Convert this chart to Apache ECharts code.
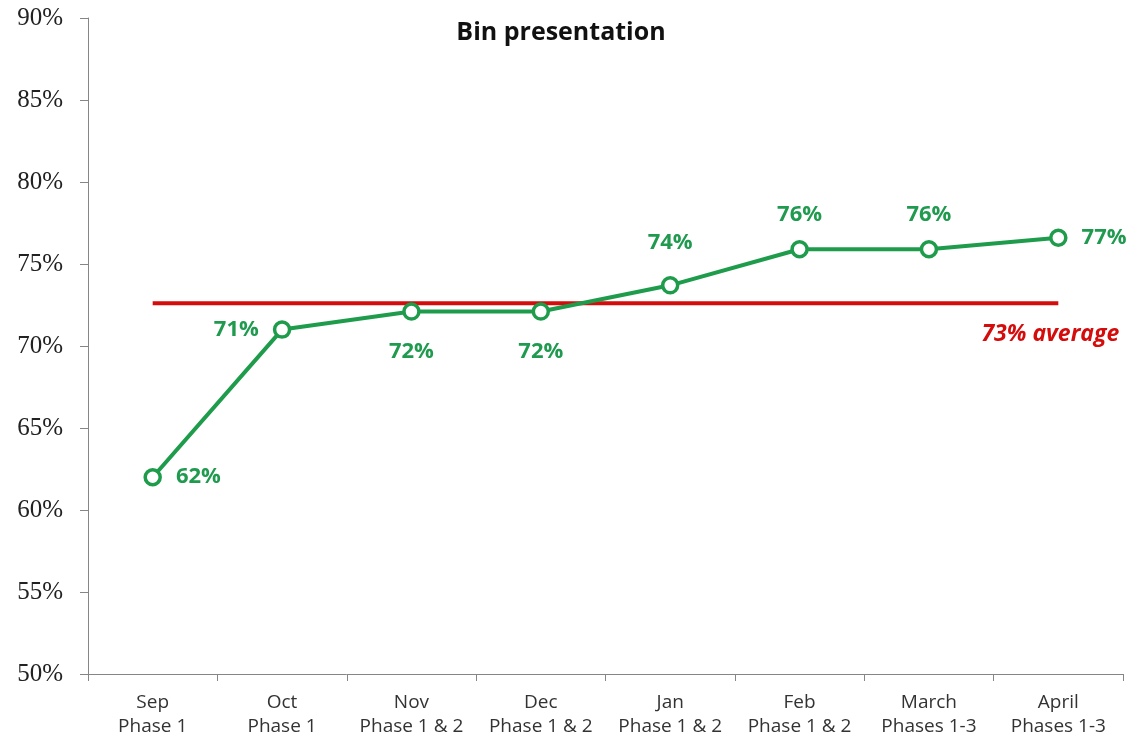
<!DOCTYPE html>
<html>
<head>
<meta charset="utf-8">
<script src="https://cdn.jsdelivr.net/npm/echarts@6/dist/echarts.min.js"></script>
<style>
  html, body { margin: 0; padding: 0; background: #fff; }
  #chart { width: 1132px; height: 746px; }
</style>
</head>
<body>
<div id="chart"></div>
<script>
// categories and values
var months = ['Sep\nPhase 1', 'Oct\nPhase 1', 'Nov\nPhase 1 & 2', 'Dec\nPhase 1 & 2',
              'Jan\nPhase 1 & 2', 'Feb\nPhase 1 & 2', 'March\nPhases 1-3', 'April\nPhases 1-3'];
var binValues = [62.0, 71.0, 72.1, 72.1, 73.7, 75.9, 75.9, 76.6];
var averageValue = 72.6;
var averageLine = months.map(function () { return averageValue; });
// where each point's label sits
var labelPos = ['right', 'left', 'bottom', 'bottom', 'top', 'top', 'top', 'right'];

var chart = echarts.init(document.getElementById('chart'));

var greenPoints = binValues.map(function (v, i) {
  var lbl = { position: labelPos[i] };
  if (labelPos[i] == 'bottom') lbl.distance = 20;
  if (i == 4) lbl.distance = 22;
  return { value: v, label: lbl };
});

// only the last point of the average line carries its label
var redPoints = averageLine.map(function (v, i) {
  if (i < averageLine.length - 1) return v;
  return { value: v, label: { show: true } };
});

var option = {
  animation: false,
  title: {
    text: 'Bin presentation',
    left: 556,
    top: 15,
    textAlign: 'center',
    textStyle: { fontFamily: 'Open Sans', fontWeight: 'bold', fontSize: 25, color: '#111' }
  },
  grid: { left: 88, right: 9, top: 18, bottom: 72 },
  xAxis: {
    type: 'category',
    data: months,
    boundaryGap: true,
    axisLine: { lineStyle: { color: '#868686', width: 1 } },
    axisTick: { show: true, length: 7, lineStyle: { color: '#868686' } },
    axisLabel: {
      interval: 0,
      fontFamily: 'Open Sans', fontSize: 19, color: '#333', lineHeight: 24, margin: 17
    },
    splitLine: { show: false }
  },
  yAxis: {
    type: 'value',
    min: 50,
    max: 90,
    interval: 5,
    axisLine: { show: true, lineStyle: { color: '#868686', width: 1 } },
    axisTick: { show: true, length: 8, lineStyle: { color: '#868686' } },
    axisLabel: {
      fontFamily: 'Liberation Serif', fontSize: 25, color: '#222', margin: 25,
      formatter: '{value}%'
    },
    splitLine: { show: false }
  },
  series: [
    {
      name: 'Average',
      type: 'line',
      data: redPoints,
      symbol: 'circle',
      symbolSize: 1,
      itemStyle: { color: 'rgba(0,0,0,0)' },
      lineStyle: { color: '#d40c0c', width: 4 },
      z: 1,
      label: {
        show: false,
        formatter: Math.round(averageValue) + '% average',
        position: 'bottom',
        distance: 19,
        offset: [-8, 0],
        fontFamily: 'Open Sans', fontSize: 23, fontWeight: 'bold', fontStyle: 'italic',
        color: '#d40c0c'
      }
    },
    {
      name: 'Bin presentation',
      type: 'line',
      data: greenPoints,
      symbol: 'circle',
      symbolSize: 15,
      z: 3,
      lineStyle: { color: '#1e9c4c', width: 4 },
      itemStyle: { color: '#ffffff', borderColor: '#1e9c4c', borderWidth: 3.5 },
      label: {
        show: true,
        distance: 14,
        formatter: function (p) { return Math.round(p.value) + '%'; },
        fontFamily: 'Open Sans', fontSize: 22, fontWeight: 'bold', color: '#1f9a4f'
      }
    }
  ]
};

chart.setOption(option);
</script>
</body>
</html>
